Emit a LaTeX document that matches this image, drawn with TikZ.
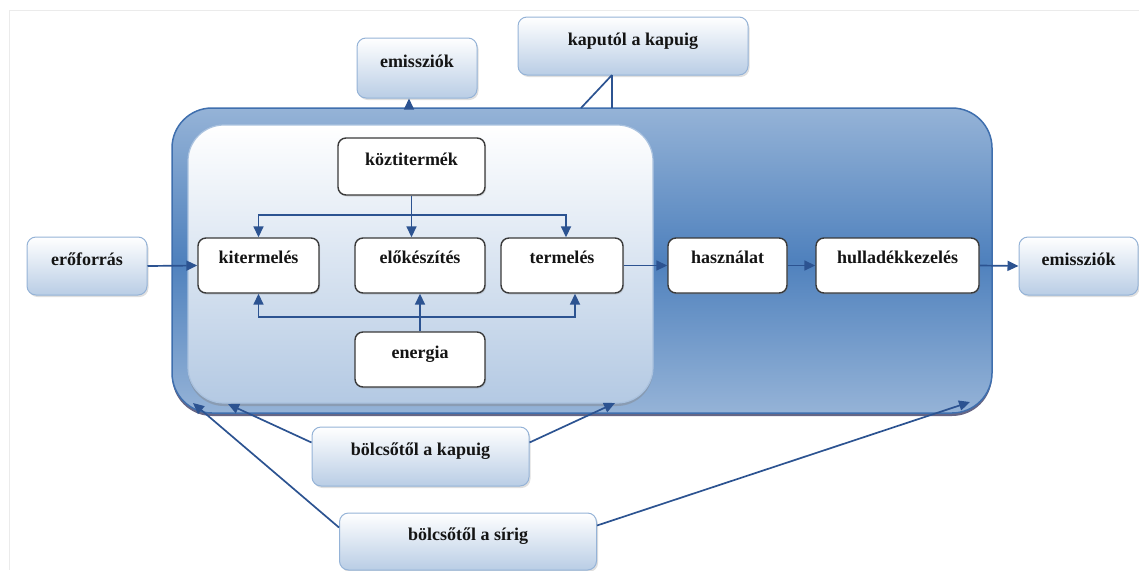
\documentclass[tikz,border=0pt]{standalone}
\usepackage{fontspec}
\setmainfont{Liberation Serif}
\usetikzlibrary{arrows.meta,shadows,calc}
\definecolor{accent}{HTML}{4F81BD}
\definecolor{lightacc}{HTML}{95B3D7}
\definecolor{paleacc}{HTML}{B9CDE5}
\definecolor{outerline}{HTML}{3F6FAE}
\definecolor{linecol}{HTML}{2C5391}
\definecolor{boxborder}{HTML}{3A3A3A}
\definecolor{txt}{HTML}{141414}
\begin{document}
\begin{tikzpicture}[x=1pt,y=-1pt,
  lbl/.style={font=\fontsize{18}{20}\selectfont\bfseries, text=txt, inner sep=0pt, align=center},
  vt/.style 2 args={text height=#1pt, text depth=#2pt},
  whitebox/.style={lbl, draw=boxborder, line width=1.4pt, fill=white, rounded corners=8pt,
    drop shadow={opacity=0.25, shadow xshift=1pt, shadow yshift=-1.5pt}},
  bluebox/.style={lbl, draw=lightacc, line width=1pt, top color=white, bottom color=paleacc, rounded corners=9pt,
    drop shadow={opacity=0.25, shadow xshift=1.5pt, shadow yshift=-2pt}},
  outerbox/.style={draw=outerline, line width=1.5pt, top color=lightacc, bottom color=lightacc, middle color=accent,
    rounded corners=40pt, drop shadow={opacity=0.6, shadow xshift=0pt, shadow yshift=-3pt, fill=black!80!blue}, inner sep=0pt},
  innerbox/.style={draw=lightacc!80!white, line width=1.2pt, top color=white, bottom color=paleacc!95!accent,
    rounded corners=36pt, drop shadow={opacity=0.4, shadow xshift=0pt, shadow yshift=-3pt}, inner sep=0pt},
  conn/.style={draw=linecol, line width=1.7pt},
  arr/.style={conn, -{Triangle[length=11pt,width=10pt]}}
]
\useasboundingbox (0,0) rectangle (1139,570);
% faint frame
\draw[black!8, line width=0.8pt] (9,570) -- (9,10) -- (1139,10);

% big containers
\node[outerbox, minimum width=820pt, minimum height=305pt] (outer) at (582,260.5) {};
\node[innerbox, minimum width=465pt, minimum height=278pt] (inner) at (420.5,264) {};

% inner boxes
\node[whitebox, minimum width=147pt, vt={27}{30}] (koz) at (411.5,166.5) {köztitermék};
\node[whitebox, minimum width=121pt, vt={25}{30}] (kit) at (258.5,265.5) {kitermelés};
\node[whitebox, minimum width=130pt, vt={25}{30}] (elo) at (420,265.5) {előkészítés};
\node[whitebox, minimum width=122pt, vt={25}{30}] (ter) at (562,265.5) {termelés};
\node[whitebox, minimum width=130pt, vt={26}{29}] (ene) at (420,359.5) {energia};
\node[whitebox, minimum width=119pt, vt={25}{30}] (has) at (727.5,265.5) {használat};
\node[whitebox, minimum width=163pt, vt={25}{30}] (hul) at (897.5,265.5) {hulladékkezelés};

% outer labels
\node[bluebox, minimum width=120pt, vt={28}{30}] (ero) at (87,266) {erőforrás};
\node[bluebox, minimum width=119pt, vt={28}{30}] (emr) at (1078.5,266) {emissziók};
\node[bluebox, minimum width=120pt, vt={29}{31}] (emt) at (417,68) {emissziók};
\node[bluebox, minimum width=230pt, vt={28}{30}] (kap) at (633,46) {kaputól a kapuig};
\node[bluebox, minimum width=217pt, vt={28}{31}] (bk) at (420.5,456.5) {bölcsőtől a kapuig};
\node[bluebox, minimum width=257pt, vt={27}{30}] (bs) at (468,541.5) {bölcsőtől a sírig};

% helper coordinates
\coordinate (hk) at (0,215);
\coordinate (he) at (0,317);
\coordinate (o1) at (409,108);
\coordinate (kb) at (612,75);
\coordinate (ktop) at (612,108);
\coordinate (kdiag) at (581,108);
\coordinate (t1) at (228,404);
\coordinate (t2) at (615,403);
\coordinate (t3) at (193,403);
\coordinate (t4) at (970,402);

% köztitermék distribution
\draw[arr] (koz.south) -- (koz.south |- elo.north);
\draw[arr] (koz.south |- hk) -| (kit.north);
\draw[arr] (koz.south |- hk) -| ([xshift=4pt]ter.north);
% energia distribution
\draw[arr] (ene.north) -- (ene.north |- elo.south);
\draw[arr] (ene.north |- he) -| (kit.south);
\draw[arr] (ene.north |- he) -| ([xshift=13pt]ter.south);

% main flow
\draw[arr] (ero.east) -- (kit.west);
\draw[arr] (ter.east) -- (has.west);
\draw[arr] (has.east) -- (hul.west);
\draw[arr] (hul.east) -- (emr.west);

% top
\draw[arr] (o1) -- (o1 |- emt.south);
\draw[conn] (kb) -- (ktop);
\draw[conn] (kb) -- (kdiag);

% bottom
\draw[arr] ([yshift=14pt]bk.west) -- (t1);
\draw[arr] ([yshift=14pt]bk.east) -- (t2);
\draw[arr] ([yshift=14pt]bs.west) -- (t3);
\draw[arr] ([yshift=16pt]bs.east) -- (t4);
\end{tikzpicture}
\end{document}
